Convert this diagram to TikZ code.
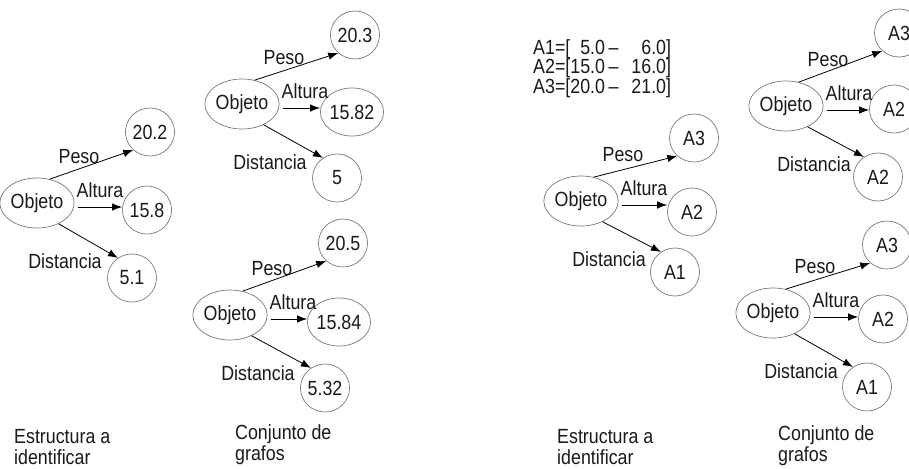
\documentclass[tikz,border=0pt]{standalone}
\usepackage{fontspec}
\setmainfont{Liberation Sans}[FakeStretch=0.87]
\usetikzlibrary{shapes.geometric,arrows.meta,calc}
\definecolor{edgegray}{HTML}{7A7A7A}
\definecolor{ink}{HTML}{1A1A1A}
\tikzset{
  objnode/.style={ellipse, draw=edgegray, line width=0.7pt, minimum width=59pt, minimum height=50pt, inner sep=0pt, text=ink},
  valnode/.style={ellipse, draw=edgegray, line width=0.7pt, minimum width=49pt, minimum height=48pt, inner sep=0pt, text=ink},
  lbl/.style={inner sep=0pt, text=ink},
  caption/.style={inner sep=0pt, text=ink, align=left, anchor=west},
  arr/.style={draw=black, line width=0.8pt, -{Latex[length=10pt,width=7.5pt]}},
}
\newcommand\grafo[8]{%
  \node[objnode] (#1o) at (#2) {Objeto};
  \node[valnode] (#1t) at (#3) {#6};
  \node[valnode] (#1m) at (#4) {#7};
  \node[valnode] (#1b) at (#5) {#8};
  \node[lbl] (#1lp) at ($(#1o)+(42,-46)$) {Peso};
  \node[lbl] (#1la) at ($(#1o)+(63,-13)$) {Altura};
  \node[lbl] (#1ld) at ($(#1o)+(28,58)$) {Distancia};
  \coordinate (#1s) at ($(#1o.east)+(3,4)$);
  \draw[arr] (#1o.62) -- (#1t.227);
  \draw[arr] (#1s) -- (#1s -| #1m.west);
  \draw[arr] (#1o.-44) -- (#1b.125);
}
\begin{document}
\begin{tikzpicture}[x=1pt,y=-1pt,font=\fontsize{20.5}{21}\selectfont]
\useasboundingbox (0,0) rectangle (909,468);
\fill[white] (0,0) rectangle (909,468);
% graph 1
\grafo{g1}{37,203}{150,132}{147,210}{132,278}{20.2}{15.8}{5.1}
% graph 2
\grafo{g2}{242,104}{355,35}{352,112}{337,178}{20.3}{15.82}{5}
% graph 3
\grafo{g3}{230,315}{343,243}{339,322}{325,388}{20.5}{15.84}{5.32}
% graph 4
\grafo{g4}{581,201}{694,138}{692,212}{675,272}{A3}{A2}{A1}
% graph 5
\grafo{g5}{786,106}{899,33}{894,109}{878,177}{A3}{A2}{A2}
% graph 6
\grafo{g6}{773,313}{887,245}{883,319}{867,387}{A3}{A2}{A1}
% intervals
\node[caption, anchor=north west, font=\fontsize{20.5}{19.5}\selectfont] (rangos) at (533,39)
  {A1=[\phantom{1}5.0\,–\hspace{13pt}\phantom{1}6.0]\\
   A2=[15.0\,–\hspace{13pt}16.0]\\
   A3=[20.0\,–\hspace{13pt}21.0]};
% captions
\node[caption] (c1) at (14,447) {Estructura a\\identificar};
\node[caption] (c2) at (235,445) {Conjunto de\\grafos};
\node[caption] (c3) at (557,447) {Estructura a\\identificar};
\node[caption] (c4) at (778,446) {Conjunto de\\grafos};
\end{tikzpicture}
\end{document}
